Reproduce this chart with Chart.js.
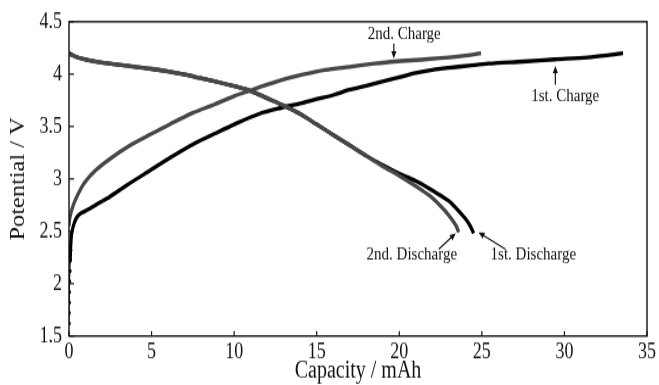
<!DOCTYPE html>
<html>
<head>
<meta charset="utf-8">
<script src="https://cdn.jsdelivr.net/npm/chart.js@4/dist/chart.umd.min.js"></script>
<style>
  html, body { margin: 0; padding: 0; background: #fff; }
  #outer { width: 659px; height: 385px; position: relative; }
  /* the original figure is stretched vertically, so draw at 316px and stretch */
  #wrap { position: absolute; left: 0; top: 0; width: 659px; height: 316px; transform: scaleY(1.2184); transform-origin: 0 0; }
</style>
</head>
<body>
<div id="outer"><div id="wrap"><canvas id="chart" width="659" height="316"></canvas></div></div>
<script>
// 1st charge (black)
const charge1Cap = [0, 0, 0.01, 0.02, 0.03, 0.05, 0.07, 0.09, 0.12, 0.16, 0.3, 0.46, 0.7, 1.07, 1.7, 2.47, 3.5, 5, 6.2, 7.5, 8.8, 10, 11.5, 12.9, 14, 14.95, 16, 16.96, 18, 18.97, 20, 20.98, 22, 23, 24.2, 25.4, 27.5, 29.4, 31.4, 32.6, 33.55];
const charge1V   = [1.62, 1.72, 1.82, 1.92, 2.02, 2.12, 2.22, 2.32, 2.41, 2.48, 2.57, 2.63, 2.67, 2.70, 2.76, 2.83, 2.94, 3.09, 3.21, 3.33, 3.43, 3.52, 3.62, 3.68, 3.72, 3.76, 3.80, 3.85, 3.89, 3.93, 3.97, 4.01, 4.04, 4.06, 4.08, 4.10, 4.12, 4.14, 4.16, 4.18, 4.20];

// 2nd charge (grey)
const charge2Cap = [0, 0.05, 0.26, 0.6, 0.97, 1.6, 2.47, 3.7, 5, 6.2, 7.5, 8.8, 10, 10.9, 12, 13, 14, 15.5, 17, 18.5, 19.7, 21.5, 23, 24.2, 24.95];
const charge2V   = [2.55, 2.63, 2.75, 2.87, 2.97, 3.08, 3.19, 3.32, 3.43, 3.53, 3.63, 3.71, 3.79, 3.84, 3.90, 3.95, 3.99, 4.04, 4.07, 4.10, 4.12, 4.14, 4.16, 4.18, 4.20];

// 1st discharge (black)
const discharge1Cap = [0, 0.5, 1, 2, 3, 4, 5, 6, 7, 8, 9, 10, 11, 12, 13, 14, 15, 16, 17, 18, 19, 20, 21, 22, 23, 23.5, 24, 24.3, 24.5];
const discharge1V   = [4.20, 4.16, 4.14, 4.11, 4.09, 4.07, 4.05, 4.025, 3.995, 3.96, 3.925, 3.885, 3.84, 3.77, 3.70, 3.62, 3.52, 3.42, 3.32, 3.22, 3.13, 3.05, 2.98, 2.89, 2.79, 2.71, 2.62, 2.55, 2.48];

// 2nd discharge (grey)
const discharge2Cap = [0, 0.5, 1, 2, 3, 4, 5, 6, 7, 8, 9, 10, 11, 12, 13, 14, 15, 16, 17, 18, 19, 20, 21, 22, 22.8, 23.2, 23.45, 23.6];
const discharge2V   = [4.19, 4.16, 4.14, 4.11, 4.09, 4.07, 4.05, 4.025, 3.995, 3.96, 3.925, 3.885, 3.84, 3.77, 3.70, 3.62, 3.52, 3.42, 3.32, 3.22, 3.12, 3.03, 2.93, 2.82, 2.69, 2.61, 2.55, 2.49];

const xTicks = [0, 5, 10, 15, 20, 25, 30, 35];
const yTicks = [1.5, 2, 2.5, 3, 3.5, 4, 4.5];

// labels: text, text position, arrow tail, arrow head (data units)
const noteText = ["2nd. Charge", "1st. Charge", "2nd. Discharge", "1st. Discharge"];
const notePos  = [[20.3, 4.34], [30.05, 3.745], [20.76, 2.236], [28.12, 2.236]];
const noteFrom = [[19.67, 4.29], [29.45, 3.90], [22.39, 2.33], [26.43, 2.33]];
const noteTo   = [[19.67, 4.15], [29.45, 4.08], [23.42, 2.48], [24.8, 2.49]];

function pts(xs, ys) {
    return xs.map((x, i) => ({ x: x, y: ys[i] }));
}

const serif = "'Liberation Serif', 'DejaVu Serif', serif";

// frame, inward ticks and annotations
const decor = {
    id: "decor",
    afterDraw(chart) {
        const c = chart.ctx;
        const a = chart.chartArea;
        const xs = chart.scales.x, ys = chart.scales.y;
        c.save();
        c.strokeStyle = "#111";
        c.lineWidth = 1.4;
        c.strokeRect(a.left, a.top, a.right - a.left, a.bottom - a.top);
        c.lineWidth = 1.2;
        xTicks.forEach(v => {
            const px = xs.getPixelForValue(v);
            c.beginPath(); c.moveTo(px, a.bottom); c.lineTo(px, a.bottom - 4); c.stroke();
        });
        yTicks.forEach(v => {
            const py = ys.getPixelForValue(v);
            c.beginPath(); c.moveTo(a.left, py); c.lineTo(a.left + 5, py); c.stroke();
        });

        c.fillStyle = "#111";
        c.font = "15px " + serif;
        c.textAlign = "center";
        c.textBaseline = "alphabetic";
        noteText.forEach((t, i) => {
            c.fillText(t, xs.getPixelForValue(notePos[i][0]), ys.getPixelForValue(notePos[i][1]));
            const x1 = xs.getPixelForValue(noteFrom[i][0]), y1 = ys.getPixelForValue(noteFrom[i][1]);
            const x2 = xs.getPixelForValue(noteTo[i][0]), y2 = ys.getPixelForValue(noteTo[i][1]);
            const ang = Math.atan2(y2 - y1, x2 - x1);
            c.lineWidth = 1.2;
            c.beginPath(); c.moveTo(x1, y1);
            c.lineTo(x2 - 5 * Math.cos(ang), y2 - 5 * Math.sin(ang)); c.stroke();
            c.beginPath();
            c.moveTo(x2, y2);
            c.lineTo(x2 - 6 * Math.cos(ang) + 2.6 * Math.sin(ang), y2 - 6 * Math.sin(ang) - 2.6 * Math.cos(ang));
            c.lineTo(x2 - 6 * Math.cos(ang) - 2.6 * Math.sin(ang), y2 - 6 * Math.sin(ang) + 2.6 * Math.cos(ang));
            c.closePath(); c.fill();
        });
        c.restore();
    }
};

const line = (data, color, dots) => ({
    data: data,
    showLine: true,
    borderColor: color,
    backgroundColor: color,
    borderWidth: 3.3,
    tension: 0.3,
    // the first charge starts with sparse measured points near 0 mAh
    segment: dots ? { borderWidth: ctx => (ctx.p1.parsed.y < 2.3 ? 1.2 : 3.3) } : undefined,
    pointRadius: dots ? (ctx => (ctx.raw && ctx.raw.y < 2.35 ? 1.8 : 0)) : 0,
    pointBorderWidth: 0
});

new Chart(document.getElementById("chart"), {
    type: "scatter",
    data: {
        datasets: [
            line(pts(discharge2Cap, discharge2V), "#474747"),
            line(pts(charge2Cap, charge2V), "#474747"),
            line(pts(discharge1Cap, discharge1V), "#000"),
            line(pts(charge1Cap, charge1V), "#000", true)
        ]
    },
    options: {
        responsive: false,
        animation: false,
        devicePixelRatio: 1,
        layout: { padding: { left: 0, top: 14.8, right: 10, bottom: 0 } },
        plugins: { legend: { display: false }, tooltip: { enabled: false } },
        scales: {
            x: {
                type: "linear", min: 0, max: 35,
                afterBuildTicks: s => { s.ticks = xTicks.map(v => ({ value: v })); },
                afterFit: s => { s.height = 40.2; },
                grid: { display: false, drawTicks: false },
                border: { display: false },
                ticks: { color: "#111", font: { family: serif, size: 18 }, padding: 3, maxRotation: 0 },
                title: { display: true, text: "Capacity / mAh", color: "#111", font: { family: serif, size: 20 }, padding: { top: 0, bottom: -1 } }
            },
            y: {
                min: 1.5, max: 4.5,
                afterBuildTicks: s => { s.ticks = yTicks.map(v => ({ value: v })); },
                afterFit: s => { s.width = 69; },
                grid: { display: false, drawTicks: false },
                border: { display: false },
                ticks: { color: "#111", font: { family: serif, size: 18 }, padding: 7, callback: v => String(v) },
                title: { display: true, text: "Potential / V", color: "#111", font: { family: serif, size: 20 }, padding: { top: 7, bottom: 0 } }
            }
        }
    },
    plugins: [decor]
});
</script>
</body>
</html>
